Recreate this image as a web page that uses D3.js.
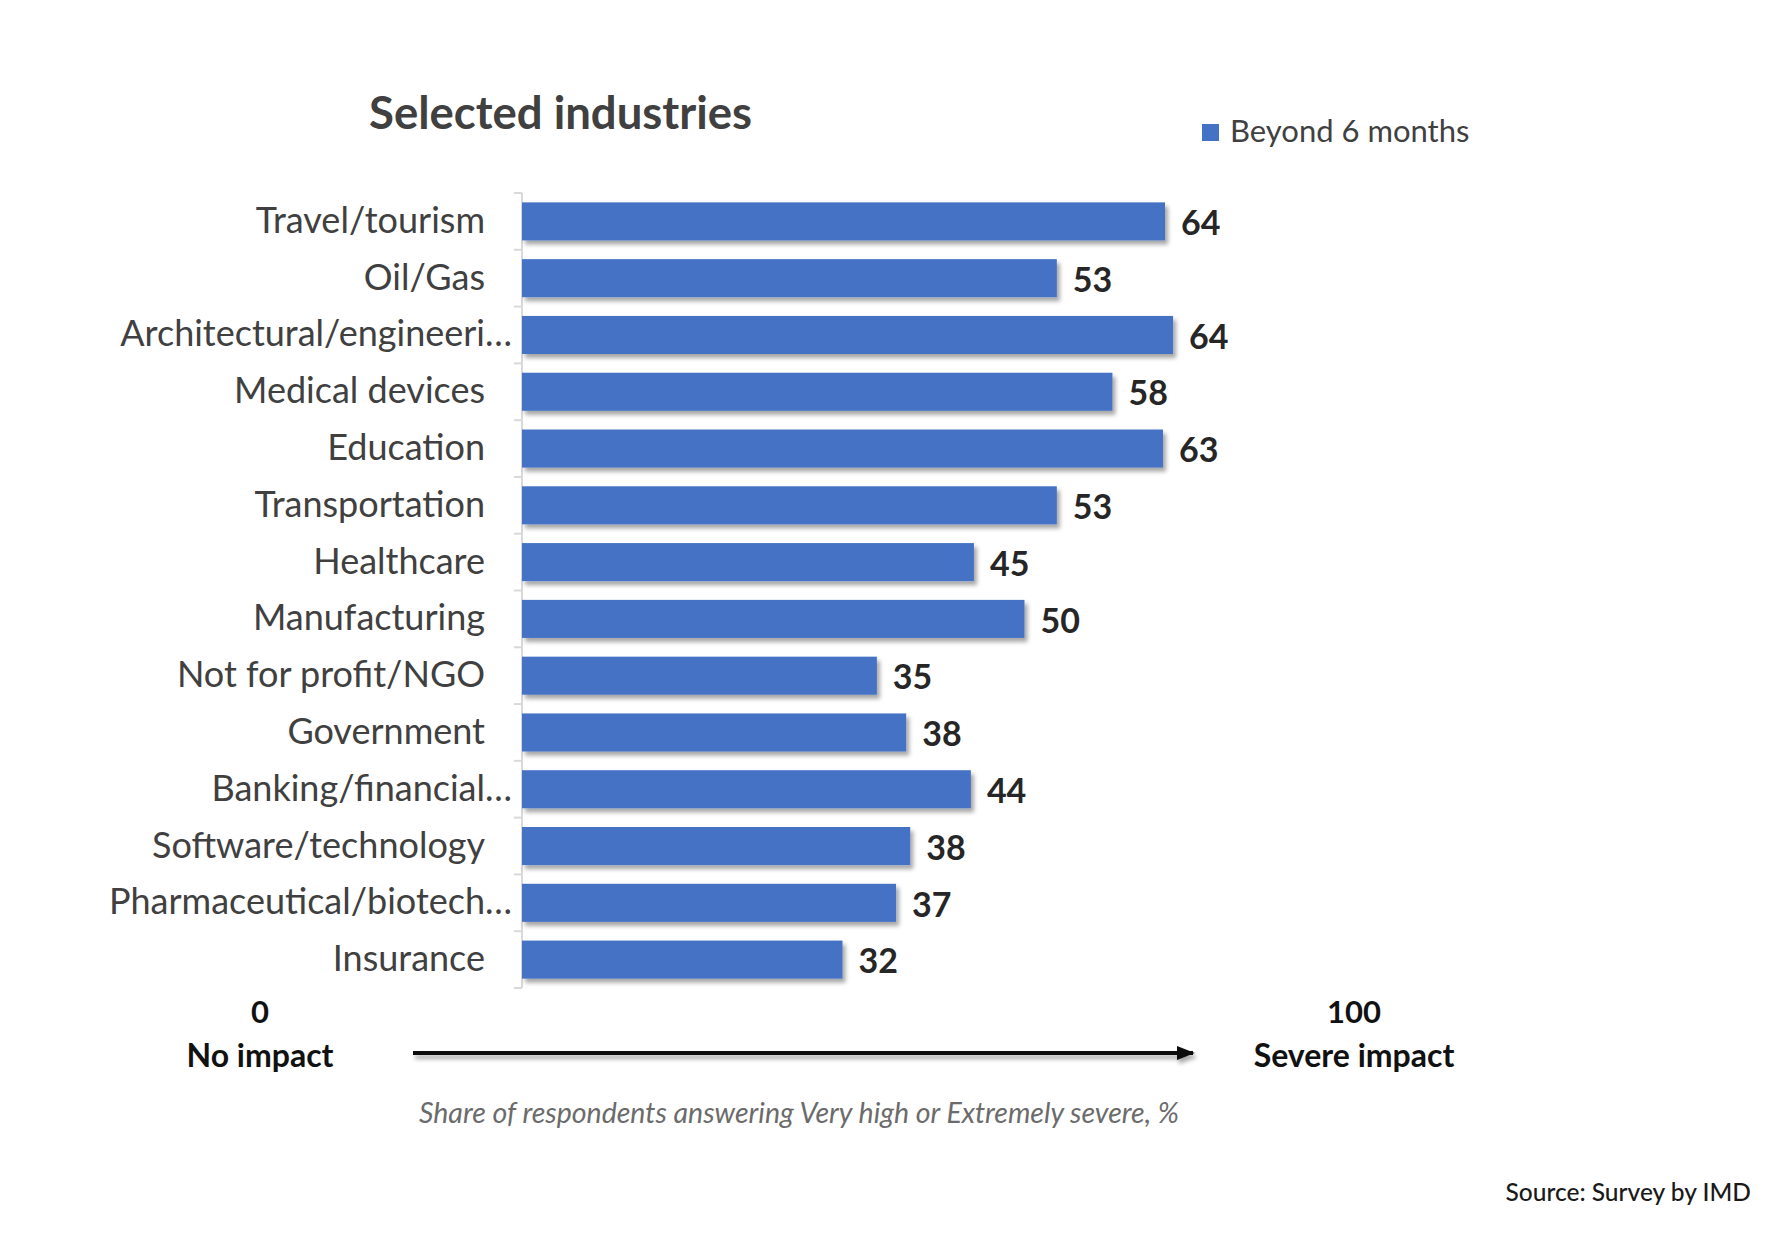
<!DOCTYPE html>
<html>
<head>
<meta charset="utf-8">
<script src="https://cdn.jsdelivr.net/npm/d3@7"></script>
<style>
  body { margin: 0; background: #fff; }
  text { font-family: Lato, "Open Sans", sans-serif; }
</style>
</head>
<body>
<script>
// chart data
var categories = [
  'Travel/tourism', 'Oil/Gas', 'Architectural/engineeri\u2026', 'Medical devices',
  'Education', 'Transportation', 'Healthcare', 'Manufacturing',
  'Not for profit/NGO', 'Government', 'Banking/financial\u2026',
  'Software/technology', 'Pharmaceutical/biotech\u2026', 'Insurance'
];
var values = [63.6, 52.9, 64.4, 58.4, 63.4, 52.9, 44.7, 49.7, 35.1, 38.0, 44.4, 38.4, 37.0, 31.7];
var seriesName = 'Beyond 6 months';
var scaleEnds = [
  { value: '0', label: 'No impact' },
  { value: '100', label: 'Severe impact' }
];

var width = 1776;
var height = 1250;
var barColor = '#4472c4';

var svg = d3.select('body').append('svg')
  .attr('width', width)
  .attr('height', height);

var defs = svg.append('defs');
defs.append('filter')
  .attr('id', 'shadow')
  .attr('x', '-5%').attr('y', '-20%')
  .attr('width', '115%').attr('height', '160%')
  .append('feDropShadow')
  .attr('dx', 3).attr('dy', 4)
  .attr('stdDeviation', 2)
  .attr('flood-color', '#000')
  .attr('flood-opacity', 0.35);

// the arrow is a flat line, so its shadow filter needs user space units
defs.append('filter')
  .attr('id', 'lineShadow')
  .attr('filterUnits', 'userSpaceOnUse')
  .attr('x', 380).attr('y', 1025)
  .attr('width', 860).attr('height', 60)
  .append('feDropShadow')
  .attr('dx', 2).attr('dy', 4)
  .attr('stdDeviation', 2)
  .attr('flood-color', '#000')
  .attr('flood-opacity', 0.35);

defs.append('marker')
  .attr('id', 'arrow')
  .attr('viewBox', '0 0 10 10')
  .attr('refX', 9).attr('refY', 5)
  .attr('markerWidth', 4.5).attr('markerHeight', 4.5)
  .attr('orient', 'auto')
  .append('path')
  .attr('d', 'M0,1 L10,5 L0,9 Z')
  .attr('fill', '#111');

var x = d3.scaleLinear()
  .domain([0, 100])
  .range([522, 1533]);

var y = d3.scaleBand()
  .domain(categories)
  .range([193, 988])
  .paddingInner(0.33)
  .paddingOuter(0.165);

// title + legend
svg.append('text')
  .attr('x', 369)
  .attr('y', 117)
  .attr('dominant-baseline', 'middle')
  .attr('font-size', 45.5)
  .attr('font-weight', 'bold')
  .attr('fill', '#404040')
  .text('Selected industries');

svg.append('rect')
  .attr('x', 1202).attr('y', 124)
  .attr('width', 17).attr('height', 17)
  .attr('fill', barColor);

svg.append('text')
  .attr('x', 1230)
  .attr('y', 134)
  .attr('dominant-baseline', 'middle')
  .attr('font-size', 31)
  .attr('fill', '#404040')
  .text(seriesName);

// category axis
var yAxis = svg.append('g')
  .attr('transform', 'translate(' + x(0) + ',0)')
  .call(d3.axisLeft(y).tickSize(0).tickPadding(37));

yAxis.select('.domain')
  .attr('stroke', '#d9d9d9')
  .attr('stroke-width', 2)
  .attr('d', 'M0,' + y.range()[0] + 'V' + y.range()[1]);

yAxis.selectAll('.tick text')
  .attr('font-size', 36)
  .attr('fill', '#404040')
  .attr('x', function(d) { return d.slice(-1) === '\u2026' ? -10 : -37; });

var step = y.step();
var bounds = d3.range(categories.length + 1).map(function(i) {
  return y.range()[0] + i * step;
});
svg.append('g').selectAll('line')
  .data(bounds)
  .enter().append('line')
  .attr('x1', x(0) - 8).attr('x2', x(0))
  .attr('y1', function(d) { return d; })
  .attr('y2', function(d) { return d; })
  .attr('stroke', '#d9d9d9')
  .attr('stroke-width', 2);

// bars
var data = categories.map(function(c, i) { return { cat: c, val: values[i] }; });

svg.append('g').selectAll('rect')
  .data(data)
  .enter().append('rect')
  .attr('x', x(0))
  .attr('y', function(d) { return y(d.cat); })
  .attr('width', function(d) { return x(d.val) - x(0); })
  .attr('height', y.bandwidth())
  .attr('fill', barColor)
  .attr('filter', 'url(#shadow)');

svg.append('g').selectAll('text')
  .data(data)
  .enter().append('text')
  .attr('x', function(d) { return x(d.val) + 16; })
  .attr('y', function(d) { return y(d.cat) + y.bandwidth() / 2 + 5; })
  .attr('dominant-baseline', 'middle')
  .attr('font-size', 34)
  .attr('font-weight', 'bold')
  .attr('fill', '#262626')
  .text(function(d) { return Math.round(d.val); });

// bottom scale explanation
var endX = [260, 1354];
var ends = svg.append('g').selectAll('g')
  .data(scaleEnds)
  .enter().append('g')
  .attr('transform', function(d, i) { return 'translate(' + endX[i] + ',0)'; });

ends.append('text')
  .attr('y', 1015)
  .attr('text-anchor', 'middle')
  .attr('dominant-baseline', 'middle')
  .attr('font-size', 31)
  .attr('font-weight', 'bold')
  .attr('fill', '#111')
  .text(function(d) { return d.value; });

ends.append('text')
  .attr('y', 1059)
  .attr('text-anchor', 'middle')
  .attr('dominant-baseline', 'middle')
  .attr('font-size', 32)
  .attr('font-weight', 'bold')
  .attr('fill', '#111')
  .text(function(d) { return d.label; });

svg.append('line')
  .attr('x1', 413).attr('x2', 1193)
  .attr('y1', 1053).attr('y2', 1053)
  .attr('stroke', '#111')
  .attr('stroke-width', 4)
  .attr('marker-end', 'url(#arrow)')
  .attr('filter', 'url(#lineShadow)');

svg.append('text')
  .attr('x', 799)
  .attr('y', 1116)
  .attr('text-anchor', 'middle')
  .attr('dominant-baseline', 'middle')
  .attr('font-size', 28.5)
  .attr('font-style', 'italic')
  .attr('fill', '#6b6b6b')
  .text('Share of respondents answering Very high or Extremely severe, %');

svg.append('text')
  .attr('x', 1751)
  .attr('y', 1195)
  .attr('text-anchor', 'end')
  .attr('dominant-baseline', 'middle')
  .attr('font-family', 'Roboto, sans-serif')
  .attr('font-size', 24.5)
  .attr('font-weight', 500)
  .attr('fill', '#1a1a1a')
  .text('Source: Survey by IMD');
</script>
</body>
</html>
